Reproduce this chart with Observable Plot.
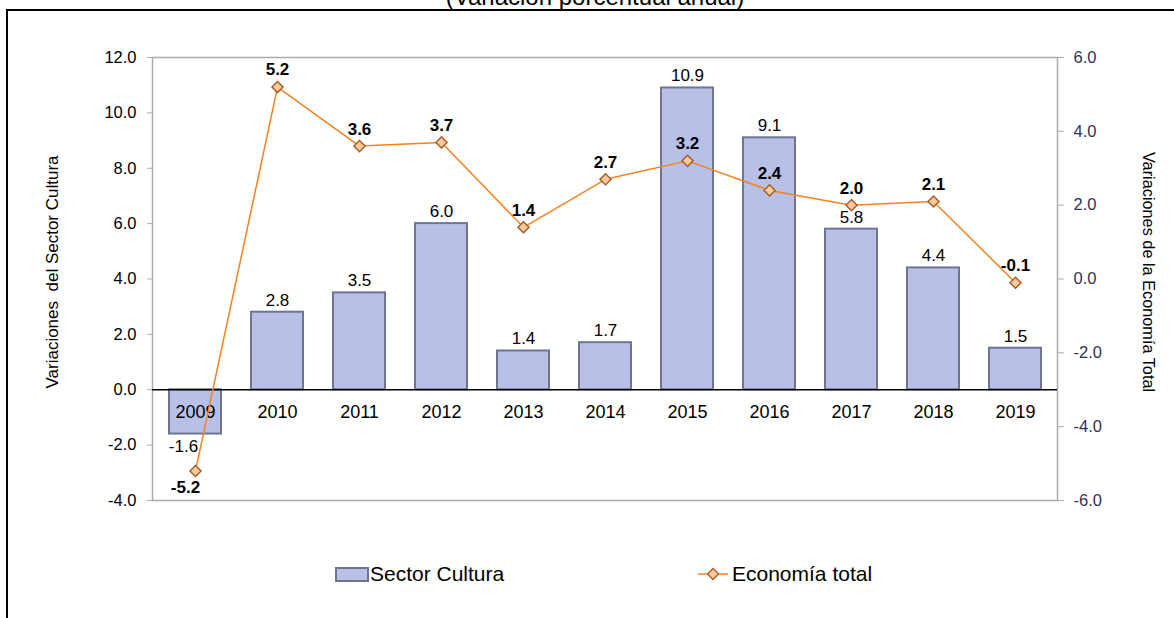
<!DOCTYPE html>
<html>
<head>
<meta charset="utf-8">
<script src="https://cdn.jsdelivr.net/npm/d3@7"></script>
<script src="https://cdn.jsdelivr.net/npm/@observablehq/plot@0.6"></script>
<style>
  html, body { margin: 0; padding: 0; background: #fff; }
  #wrap { position: relative; width: 1174px; height: 618px; overflow: hidden; font-family: "Liberation Sans", Arial, sans-serif; color: #000; }
  #frame { position: absolute; left: 6px; top: 9px; width: 1300px; height: 800px; border-left: 2px solid #000; border-top: 2px solid #000; }
  #title { position: absolute; left: 595px; top: -15px; transform: translateX(-50%); font-size: 24px; line-height: 24px; white-space: nowrap; }
  #chart { position: absolute; left: 0; top: 0; }
  #chart svg text { white-space: pre; }
  .leg { position: absolute; font-size: 21px; line-height: 21px; white-space: nowrap; }
  .sw { position: absolute; }
</style>
</head>
<body>
<div id="wrap">
  <div id="frame"></div>
  <div id="title">(Variación porcentual anual)</div>
  <div id="chart"></div>
  <svg class="sw" style="left:335px;top:567px" width="35" height="16">
    <rect x="1" y="1" width="32" height="13" fill="#b8c0e8" stroke="#6e7592" stroke-width="2"></rect>
  </svg>
  <div class="leg" style="left:370px;top:563px">Sector Cultura</div>
  <svg class="sw" style="left:697px;top:566px" width="33" height="16">
    <line x1="1" y1="8" x2="31" y2="8" stroke="#f5821f" stroke-width="1.5"></line>
    <path d="M16,2.5L21.5,8L16,13.5L10.5,8Z" fill="#fbc99b" stroke="#a65a24" stroke-width="1.3"></path>
  </svg>
  <div class="leg" style="left:732px;top:563px">Economía total</div>
</div>
<script>
const years = ["2009","2010","2011","2012","2013","2014","2015","2016","2017","2018","2019"];
const cultura = [-1.6, 2.8, 3.5, 6.0, 1.4, 1.7, 10.9, 9.1, 5.8, 4.4, 1.5];
const economia = [-5.2, 5.2, 3.6, 3.7, 1.4, 2.7, 3.2, 2.4, 2.0, 2.1, -0.1];
const leftTicks = [-4, -2, 0, 2, 4, 6, 8, 10, 12];
const rightTicks = [-6, -4, -2, 0, 2, 4, 6];
const leftTitle = "Variaciones  del Sector Cultura";
const rightTitle = "Variaciones de la Economía Total";

// map right-axis values (-6..6) onto left-axis scale (-4..12)
const toLeft = v => v * 4 / 3 + 4;
const fromLeft = v => (v - 4) * 3 / 4;

const data = years.map((y, i) => ({
  year: y,
  cultura: cultura[i],
  economia: economia[i],
  econY: toLeft(economia[i])
}));

const fmt = v => (Math.abs(v) < 1e-9 ? 0 : v).toFixed(1);

const chart = Plot.plot({
  width: 1174,
  height: 618,
  marginLeft: 152,
  marginRight: 117,
  marginTop: 57,
  marginBottom: 118,
  style: { fontFamily: "'Liberation Sans', Arial, sans-serif", fontSize: "16px", color: "#000", background: "transparent", overflow: "visible" },
  x: { domain: years, paddingInner: 0.37, paddingOuter: 0.185, axis: null },
  y: { domain: [-4, 12] },
  marks: [
    Plot.frame({ stroke: "#ababab", strokeWidth: 1.5 }),
    Plot.axisY(leftTicks, { anchor: "left", tickSize: 5, tickPadding: 11, stroke: "#ababab", fill: "#000", fontSize: 16.5, tickFormat: d => fmt(d), label: null }),
    Plot.axisY(rightTicks.map(toLeft), { anchor: "right", tickSize: 6, tickPadding: 10, stroke: "#ababab", fill: "#2e3256", fontSize: 16.5, tickFormat: d => fmt(fromLeft(d)), label: null }),
    Plot.barY(data, { x: "year", y: "cultura", fill: "#b8c0e8", stroke: "#6e7592", strokeWidth: 2 }),
    Plot.ruleY([0], { stroke: "#000", strokeWidth: 1.5 }),
    Plot.text(years, { x: d => d, y: d => 0, text: d => d, dy: 22, fontSize: 18, fill: "#000" }),
    Plot.text(data, { filter: d => d.cultura >= 0, x: "year", y: "cultura", text: d => fmt(d.cultura), dy: -12, fontSize: 17, fill: "#000" }),
    Plot.text(data, { filter: d => d.cultura < 0, x: "year", y: "cultura", text: d => fmt(d.cultura), dy: 12, dx: -12, fontSize: 17, fill: "#000" }),
    Plot.lineY(data, { x: "year", y: "econY", stroke: "#f5821f", strokeWidth: 1.5 }),
    Plot.dot(data, { x: "year", y: "econY", symbol: "diamond2", r: 5, fill: "#fbc99b", stroke: "#a65a24", strokeWidth: 1.4 }),
    Plot.text(data, { filter: d => d.economia >= -1, x: "year", y: "econY", text: d => fmt(d.economia), dy: -17, fontSize: 17, fontWeight: "bold", fill: "#000" }),
    Plot.text(data, { filter: d => d.economia < -1, x: "year", y: "econY", text: d => fmt(d.economia), dy: 17, dx: -10, fontSize: 17, fontWeight: "bold", fill: "#000" }),
    Plot.text([leftTitle], { frameAnchor: "left", textAnchor: "middle", dx: -100, dy: -7, rotate: -90, fontSize: 17, fill: "#000" }),
    Plot.text([rightTitle], { frameAnchor: "right", textAnchor: "middle", dx: 91, dy: -7, rotate: 90, fontSize: 16.3, fill: "#000" })
  ]
});
document.getElementById("chart").appendChild(chart);
</script>
</body>
</html>
